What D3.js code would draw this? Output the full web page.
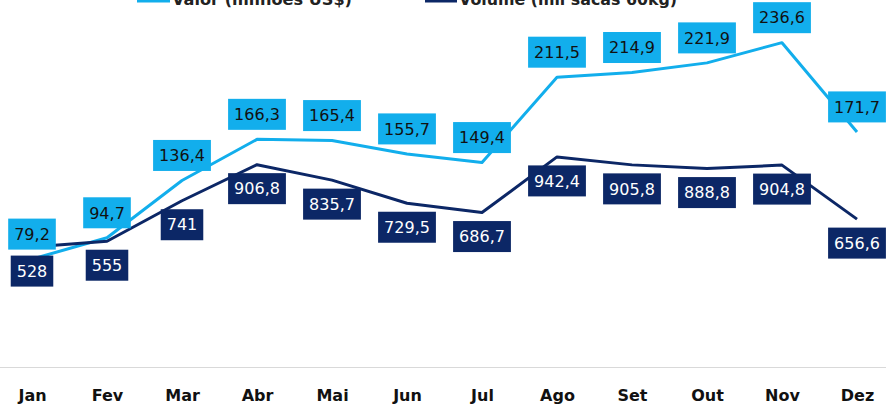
<!DOCTYPE html>
<html><head><meta charset="utf-8">
<script src="https://cdn.jsdelivr.net/npm/d3@7"></script>
<style>html,body{margin:0;padding:0;background:#fff;overflow:hidden}</style>
</head><body>
<svg id="c" width="886" height="405"></svg>
<script>
const months = ["Jan","Fev","Mar","Abr","Mai","Jun","Jul","Ago","Set","Out","Nov","Dez"];
const valor = [79.2,94.7,136.4,166.3,165.4,155.7,149.4,211.5,214.9,221.9,236.6,171.7];
const volume = [528,555,741,906.8,835.7,729.5,686.7,942.4,905.8,888.8,904.8,656.6];
const seriesNames = ["Valor (milhões US$)","Volume (mil sacas 60kg)"];

const LIGHT = "#12AEEC", DARK = "#0C2766";
const svg = d3.select("#c");
const x = d3.scalePoint().domain(months).range([32, 857]);
const yV = d3.scaleLinear().domain([0,250]).range([368, 24.25]);
const yQ = d3.scaleLinear().domain([0,1600]).range([362, 13.8]);
const fmt = v => String(v).replace(".", ",");

// axis line
const xAxis = d3.axisBottom(x).tickSize(0).tickPadding(0);
const ax = svg.append("g").attr("transform","translate(0,367.5)").call(xAxis);
ax.select(".domain").remove();
ax.append("line").attr("x1",0).attr("x2",886).attr("stroke","#D9D9D9").attr("stroke-width",1);
ax.selectAll(".tick text").attr("y",33.5).attr("dy",null)
  .attr("font-family","DejaVu Sans").attr("font-weight","bold").attr("font-size",16).attr("fill","#111");

// lines
const lineV = d3.line().x((d,i)=>x(months[i])).y(d=>yV(d));
const lineQ = d3.line().x((d,i)=>x(months[i])).y(d=>yQ(d));
svg.append("path").datum(valor).attr("d",lineV).attr("fill","none").attr("stroke",LIGHT).attr("stroke-width",3).attr("stroke-linejoin","round");
svg.append("path").datum(volume).attr("d",lineQ).attr("fill","none").attr("stroke",DARK).attr("stroke-width",3).attr("stroke-linejoin","round");

function labels(data, yScale, off, bg, fg){
  const g = svg.append("g");
  data.forEach((v,i)=>{
    const cx = x(months[i]), cy = yScale(v)+off;
    const lg = g.append("g");
    const r = lg.append("rect").attr("fill",bg);
    const t = lg.append("text").attr("x",cx).attr("y",cy).attr("dy","0.36em")
      .attr("text-anchor","middle").attr("font-family","DejaVu Sans").attr("font-size",16)
      .attr("fill",fg).text(fmt(v));
    const w = t.node().getComputedTextLength() + 12;
    r.attr("x",cx-w/2).attr("y",cy-15.5).attr("width",w).attr("height",31);
  });
}
labels(valor, yV, -25, LIGHT, "#111");
labels(volume, yQ, 24, DARK, "#fff");

// legend (cut off at top)
const leg = [{x:137,w:33,tx:172,tl:180,c:LIGHT},{x:425,w:32,tx:459,tl:218,c:DARK}];
leg.forEach((l,i)=>{
  svg.append("rect").attr("x",l.x).attr("y",-4).attr("width",l.w).attr("height",6.5).attr("fill",l.c);
  svg.append("text").attr("x",l.tx).attr("y",5).attr("font-family","DejaVu Sans").attr("font-weight","bold")
    .attr("font-size",15).attr("fill","#222").attr("textLength",l.tl).attr("lengthAdjust","spacingAndGlyphs").text(seriesNames[i]);
});
</script>
</body></html>
